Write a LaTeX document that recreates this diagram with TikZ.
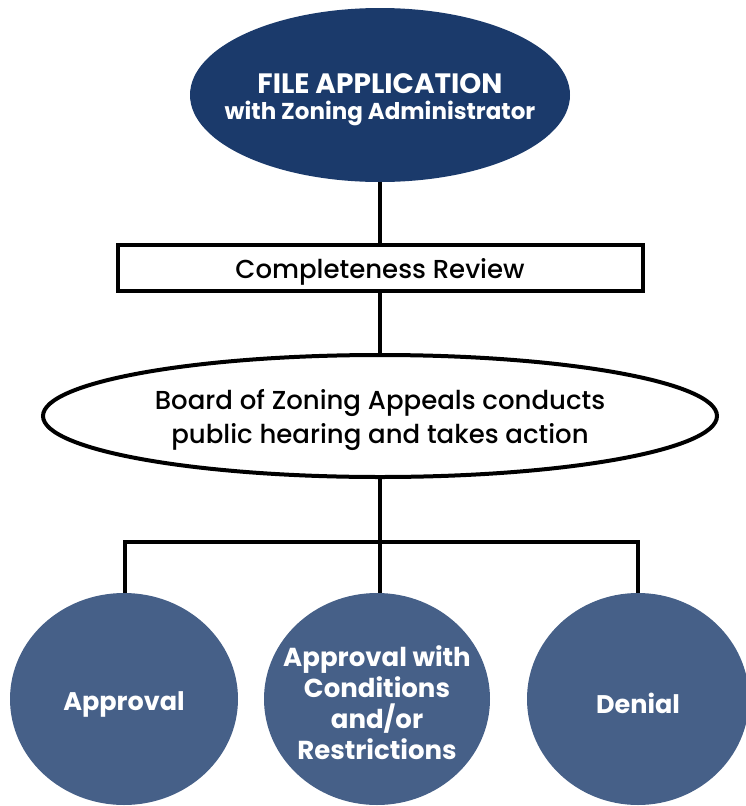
\documentclass[tikz,border=0pt]{standalone}
\usepackage{fontspec}
\setmainfont{Poppins}[BoldFont={Poppins Bold}]
\newfontfamily\medfont{Poppins Medium}
\usetikzlibrary{shapes.geometric}
\definecolor{navy}{RGB}{27,58,107}
\definecolor{slate}{RGB}{70,96,136}
\tikzset{
  conn/.style={line width=4pt, black},
  darkoval/.style={ellipse, fill=navy, inner sep=0pt},
  outcome/.style={ellipse, fill=slate, inner sep=0pt},
  reviewbox/.style={rectangle, draw=black, line width=4pt, fill=white, inner sep=0pt},
  hearing/.style={ellipse, draw=black, line width=4pt, fill=white, inner sep=0pt},
  whitetxt/.style={text=white, inner sep=0pt, align=center, font=\bfseries\fontsize{25.5}{31}\selectfont},
  blacktxt/.style={text=black, inner sep=0pt, align=center, font=\medfont\fontsize{26}{34}\selectfont}
}
\begin{document}
\begin{tikzpicture}[x=1pt,y=-1pt]
\useasboundingbox (0,0) rectangle (746,806);
% shapes
\node[darkoval, minimum width=380pt, minimum height=174pt] (file) at (380,95) {};
\node[reviewbox, minimum width=525pt, minimum height=46pt] (review) at (380,268) {};
\node[hearing, minimum width=674pt, minimum height=122pt] (board) at (380,416) {};
\coordinate (bar) at (380,542);
\node[outcome, minimum width=228pt, minimum height=212pt] (approval) at (124,699) {};
\node[outcome, minimum width=226pt, minimum height=212pt] (cond) at (377,699) {};
\node[outcome, minimum width=222pt, minimum height=212pt] (denial) at (638,699) {};
% texts
\node[whitetxt, font=\bfseries\fontsize{28}{30}\selectfont] (filet1) at (380,84) {FILE APPLICATION};
\node[whitetxt, font=\bfseries\fontsize{23}{26}\selectfont] (filet2) at (380,113) {with Zoning Administrator};
\node[blacktxt] (reviewt) at ([yshift=-4pt]review.center) {Completeness Review};
\node[blacktxt] (boardt) at ([yshift=-4pt]board.center) {Board of Zoning Appeals conducts\\public hearing and takes action};
\node[whitetxt] (approvalt) at ([yshift=-5pt]approval.center) {Approval};
\node[whitetxt, font=\bfseries\fontsize{26}{31}\selectfont] (condt) at ([yshift=-4pt]cond.center) {Approval with\\Conditions\\and/or\\Restrictions};
\node[whitetxt] (denialt) at ([yshift=-4pt]denial.center) {Denial};
% connectors
\draw[conn] (file.south) -- (review.north);
\draw[conn] (review.south) -- (board.north);
\draw[conn] (board.south) -- (bar);
\draw[conn] (approval.north -| 125,0) |- (bar) -| (denial.north);
\draw[conn] (bar) -- (bar |- cond.north);
\end{tikzpicture}
\end{document}
